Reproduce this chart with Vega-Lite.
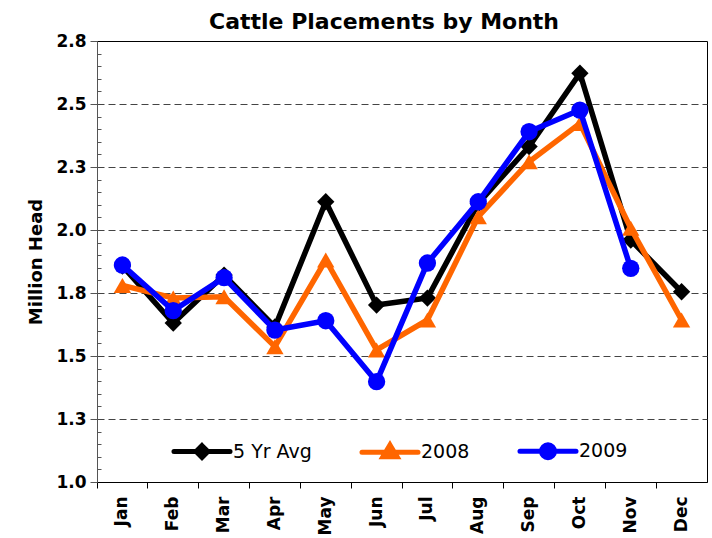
{
  "$schema": "https://vega.github.io/schema/vega-lite/v6.json",
  "autosize": "none",
  "width": 610,
  "height": 441,
  "padding": {"left": 97, "top": 41, "right": 5, "bottom": 56},
  "background": "white",
  "config": {
    "font": "DejaVu Sans",
    "view": {"stroke": "#000000", "strokeWidth": 1}
  },
  "title": {
    "text": "Cattle Placements by Month",
    "font": "DejaVu Sans",
    "fontSize": 22,
    "fontWeight": "bold",
    "color": "#000000",
    "anchor": "middle",
    "frame": "group",
    "dx": -18,
    "offset": -2
  },
  "data": {
    "values": [
      {"month": "Jan", "series": "5 Yr Avg", "value": 1.857},
      {"month": "Feb", "series": "5 Yr Avg", "value": 1.631},
      {"month": "Mar", "series": "5 Yr Avg", "value": 1.821},
      {"month": "Apr", "series": "5 Yr Avg", "value": 1.615},
      {"month": "May", "series": "5 Yr Avg", "value": 2.112},
      {"month": "Jun", "series": "5 Yr Avg", "value": 1.702},
      {"month": "Jul", "series": "5 Yr Avg", "value": 1.730},
      {"month": "Aug", "series": "5 Yr Avg", "value": 2.105},
      {"month": "Sep", "series": "5 Yr Avg", "value": 2.331},
      {"month": "Oct", "series": "5 Yr Avg", "value": 2.622},
      {"month": "Nov", "series": "5 Yr Avg", "value": 1.960},
      {"month": "Dec", "series": "5 Yr Avg", "value": 1.755},
      {"month": "Jan", "series": "2008", "value": 1.780},
      {"month": "Feb", "series": "2008", "value": 1.730},
      {"month": "Mar", "series": "2008", "value": 1.735},
      {"month": "Apr", "series": "2008", "value": 1.537},
      {"month": "May", "series": "2008", "value": 1.881},
      {"month": "Jun", "series": "2008", "value": 1.524},
      {"month": "Jul", "series": "2008", "value": 1.643},
      {"month": "Aug", "series": "2008", "value": 2.053},
      {"month": "Sep", "series": "2008", "value": 2.271},
      {"month": "Oct", "series": "2008", "value": 2.423},
      {"month": "Nov", "series": "2008", "value": 2.007},
      {"month": "Dec", "series": "2008", "value": 1.643},
      {"month": "Jan", "series": "2009", "value": 1.861},
      {"month": "Feb", "series": "2009", "value": 1.680},
      {"month": "Mar", "series": "2009", "value": 1.811},
      {"month": "Apr", "series": "2009", "value": 1.603},
      {"month": "May", "series": "2009", "value": 1.640},
      {"month": "Jun", "series": "2009", "value": 1.398},
      {"month": "Jul", "series": "2009", "value": 1.869},
      {"month": "Aug", "series": "2009", "value": 2.112},
      {"month": "Sep", "series": "2009", "value": 2.390},
      {"month": "Oct", "series": "2009", "value": 2.476},
      {"month": "Nov", "series": "2009", "value": 1.848}
    ]
  },
  "encoding": {
    "x": {
      "field": "month",
      "type": "ordinal",
      "sort": ["Jan","Feb","Mar","Apr","May","Jun","Jul","Aug","Sep","Oct","Nov","Dec"],
      "scale": {"type": "band", "paddingInner": 0, "paddingOuter": 0},
      "axis": {
        "title": null,
        "bandPosition": 0,
        "labelAngle": 270,
        "labelFont": "DejaVu Sans",
        "labelFontSize": 17,
        "labelFontWeight": "bold",
        "labelColor": "#000000",
        "labelPadding": 8,
        "tickSize": 6,
        "tickColor": "#000000",
        "domainColor": "#000000",
        "grid": false
      }
    },
    "y": {
      "field": "value",
      "type": "quantitative",
      "scale": {"domain": [1.0, 2.75], "nice": false, "zero": false},
      "axis": {
        "title": "Million Head",
        "titleFont": "DejaVu Sans",
        "titleFontSize": 18,
        "titleFontWeight": "bold",
        "titleColor": "#000000",
        "titlePadding": 10,
        "values": [1.0,1.05,1.1,1.15,1.2,1.25,1.3,1.35,1.4,1.45,1.5,1.55,1.6,1.65,1.7,1.75,1.8,1.85,1.9,1.95,2.0,2.05,2.1,2.15,2.2,2.25,2.3,2.35,2.4,2.45,2.5,2.55,2.6,2.65,2.7,2.75],
        "labelExpr": "abs(datum.value*4 - round(datum.value*4)) < 0.01 ? format(datum.value, '.1f') : ''",
        "labelOverlap": false,
        "labelFont": "DejaVu Sans",
        "labelFontSize": 17,
        "labelFontWeight": "bold",
        "labelColor": "#000000",
        "labelPadding": 4,
        "tickSize": {"condition": {"test": "abs(datum.value*4 - round(datum.value*4)) < 0.01", "value": 7}, "value": -4},
        "tickColor": "#555555",
        "domainColor": "#555555",
        "grid": true,
        "gridColor": "#444444",
        "gridDash": [7, 4],
        "gridWidth": 1,
        "gridOpacity": {"condition": {"test": "abs(datum.value*4 - round(datum.value*4)) < 0.01 && datum.value > 1.01 && datum.value < 2.74", "value": 1}, "value": 0}
      }
    },
    "color": {
      "field": "series",
      "type": "nominal",
      "scale": {"domain": ["5 Yr Avg", "2008", "2009"], "range": ["#000000", "#FF6600", "#0000FF"]},
      "legend": {
        "title": null,
        "orient": "none",
        "direction": "horizontal",
        "legendX": 73,
        "legendY": 378,
        "padding": 0,
        "symbolSize": 3481,
        "symbolStrokeWidth": 5,
        "labelFont": "DejaVu Sans",
        "labelFontSize": 19,
        "labelColor": "#000000",
        "labelOffset": -1,
        "columnPadding": 39,
        "encode": {
          "symbols": {
            "update": {
              "shape": {"signal": "datum.value === '5 Yr Avg' ? 'M-0.95,0L0.95,0M0,-0.2L0.2,0L0,0.2L-0.2,0Z' : datum.value === '2008' ? 'M-0.95,0L0.95,0M0,-0.25L0.24,0.15L-0.24,0.15Z' : 'M-0.95,0L0.95,0M0.22,0A0.22,0.22,0,1,1,-0.22,0A0.22,0.22,0,1,1,0.22,0Z'"},
              "fill": {"signal": "datum.value === '5 Yr Avg' ? '#000000' : datum.value === '2008' ? '#FF6600' : '#0000FF'"},
              "stroke": {"signal": "datum.value === '5 Yr Avg' ? '#000000' : datum.value === '2008' ? '#FF6600' : '#0000FF'"},
              "strokeWidth": {"value": 5},
              "strokeCap": {"value": "round"},
              "opacity": {"value": 1},
              "fillOpacity": {"value": 1}
            }
          }
        }
      }
    }
  },
  "layer": [
    {
      "transform": [{"filter": "datum.series === '5 Yr Avg'"}],
      "mark": {"type": "line", "strokeWidth": 5.5},
      "encoding": {}
    },
    {
      "transform": [{"filter": "datum.series === '5 Yr Avg'"}],
      "mark": {"type": "point", "shape": "diamond", "filled": true, "opacity": 1, "size": 300},
      "encoding": {}
    },
    {
      "transform": [{"filter": "datum.series === '2008'"}],
      "mark": {"type": "line", "strokeWidth": 5.5},
      "encoding": {}
    },
    {
      "transform": [{"filter": "datum.series === '2008'"}],
      "mark": {"type": "point", "shape": "triangle-up", "filled": true, "opacity": 1, "size": 300},
      "encoding": {}
    },
    {
      "transform": [{"filter": "datum.series === '2009'"}],
      "mark": {"type": "line", "strokeWidth": 5.5},
      "encoding": {}
    },
    {
      "transform": [{"filter": "datum.series === '2009'"}],
      "mark": {"type": "point", "shape": "circle", "filled": true, "opacity": 1, "size": 300},
      "encoding": {}
    }
  ]
}
